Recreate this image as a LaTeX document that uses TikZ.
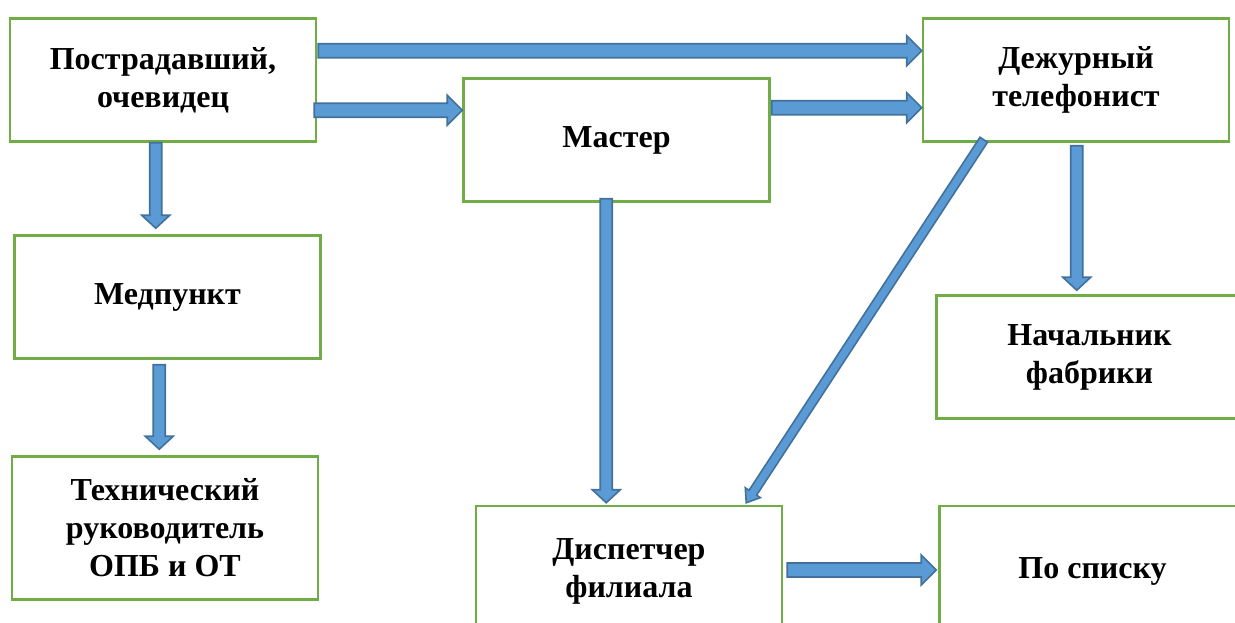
\documentclass[tikz,border=0pt]{standalone}
\usepackage{fontspec}
\setmainfont{Liberation Serif}
\usetikzlibrary{calc}
\definecolor{boxgreen}{HTML}{70AD47}
\definecolor{arrfill}{HTML}{5B9BD5}
\definecolor{arrline}{HTML}{41719C}
\newcommand\myblockarrow[5]{%
  \coordinate (hb) at ($(#2)!#5!(#1)$);
  \filldraw[arrowbody]
    ($(#1)!#3!90:(#2)$) -- ($(hb)!#3!90:(#2)$) -- ($(hb)!#4!90:(#2)$) -- (#2)
    -- ($(hb)!#4!-90:(#2)$) -- ($(hb)!#3!-90:(#2)$) -- ($(#1)!#3!-90:(#2)$) -- cycle;
}
\tikzset{
  box/.style={draw=boxgreen, line width=2.5pt, fill=white, minimum width=306pt,
    minimum height=123pt, inner sep=0pt, align=center,
    font=\fontsize{32}{38}\selectfont\bfseries},
  arrowbody/.style={fill=arrfill, draw=arrline, line width=1.6pt, line join=miter}
}
\begin{document}
\begin{tikzpicture}[x=1pt,y=-1pt]
\useasboundingbox (0,0) rectangle (1235,623);
\clip (0,0) rectangle (1235,623);
\node[box] (p) at (163,80) {Пострадавший,\\очевидец};
\node[box] (m) at (616.5,140) {Мастер};
\node[box] (d) at (1076,80) {Дежурный\\телефонист};
\node[box] (med) at (167.5,297) {Медпункт};
\node[box, minimum height=143pt] (t) at (165,528) {Технический\\руководитель\\ОПБ и ОТ};
\node[box, minimum height=131pt] (disp) at (629,571.5) {Диспетчер\\филиала};
\node[box] (n) at (1089.5,357) {Начальник\\фабрики};
\node[box, minimum height=131pt] (l) at (1092.5,571.5) {По списку};
% arrow end points
\coordinate (a1s) at ($(p.north east)+(1,33.5)$);
\coordinate (a1e) at (d.west |- a1s);
\coordinate (a2s) at ($(p.north east)+(-3,93)$);
\coordinate (a2e) at (m.west |- a2s);
\coordinate (a3s) at ($(m.north east)+(1,30.5)$);
\coordinate (a3e) at (d.west |- a3s);
\coordinate (a4s) at ($(p.south west)+(147,0)$);
\coordinate (a4e) at ($(a4s |- med.north)+(0,-6)$);
\coordinate (a5s) at ($(med.south west)+(146,5)$);
\coordinate (a5e) at ($(a5s |- t.north)+(0,-6)$);
\coordinate (a6s) at ($(m.south west)+(144,-4)$);
\coordinate (a6e) at ($(m.south west |- disp.north)+(144,-2)$);
\coordinate (a7s) at ($(d.south west)+(62,-3)$);
\coordinate (a7e) at ($(disp.north east)+(-37,-2)$);
\coordinate (a8s) at ($(d.south west)+(155,3)$);
\coordinate (a8e) at ($(a8s |- n.north)+(0,-4)$);
\coordinate (a9s) at ($(disp.east)+(4,-1.5)$);
\coordinate (a9e) at ($(l.west |- a9s)+(-2,0)$);
\myblockarrow{a1s}{a1e}{7pt}{15pt}{15pt}
\myblockarrow{a2s}{a2e}{7pt}{15pt}{15pt}
\myblockarrow{a3s}{a3e}{7pt}{15pt}{15pt}
\myblockarrow{a4s}{a4e}{6pt}{14pt}{13pt}
\myblockarrow{a5s}{a5e}{6pt}{14pt}{13pt}
\myblockarrow{a6s}{a6e}{6pt}{14pt}{13pt}
\myblockarrow{a7s}{a7e}{4.5pt}{9pt}{12pt}
\myblockarrow{a8s}{a8e}{6pt}{14pt}{13pt}
\myblockarrow{a9s}{a9e}{7pt}{15pt}{15pt}
\end{tikzpicture}
\end{document}
